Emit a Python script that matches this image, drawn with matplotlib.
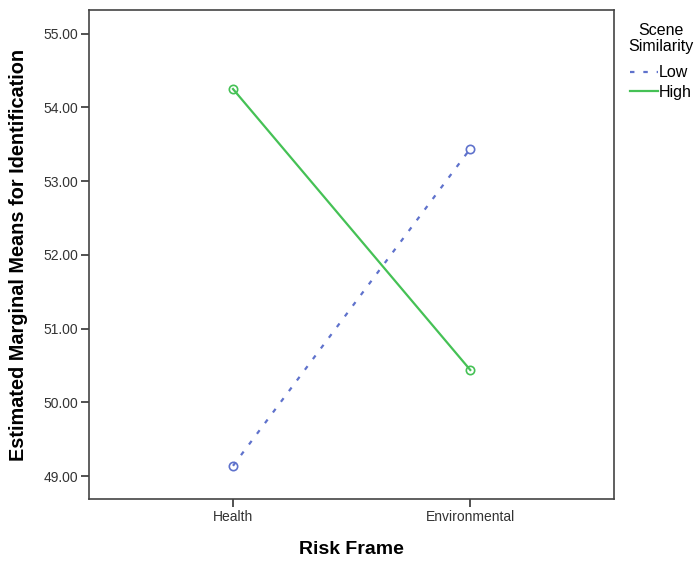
import matplotlib.pyplot as plt

plt.rcParams['font.family'] = ['Liberation Sans', 'DejaVu Sans']

# Estimated marginal means
risk_frames = ['Health', 'Environmental']
low_means = [49.14, 53.44]
high_means = [54.25, 50.44]
y_ticks = [49, 50, 51, 52, 53, 54, 55]

fig = plt.figure(figsize=(6.97, 5.61), dpi=100)
ax = fig.add_axes([0.128, 0.1105, 0.753, 0.8715])

x = range(len(risk_frames))
ax.plot(x, low_means, color='#5f72cc', linestyle=(0, (2, 4)), linewidth=1.6,
        marker='o', markersize=6, markerfacecolor='none', markeredgewidth=1.2,
        label='Low')
ax.plot(x, high_means, color='#45c155', linestyle='-', linewidth=1.6,
        marker='o', markersize=6, markerfacecolor='none', markeredgewidth=1.2,
        label='High')

ax.set_xlim(-0.606, 1.606)
ax.set_ylim(48.69, 55.32)
ax.set_xticks(list(x))
ax.set_xticklabels(risk_frames)
ax.set_yticks(y_ticks)
ax.set_yticklabels([f'{v:.2f}' for v in y_ticks])
ax.tick_params(labelsize=10, colors='#333333', length=6, width=1.2, pad=2)

for s in ax.spines.values():
    s.set_color('#444444')
    s.set_linewidth(1.2)

ax.set_xlabel('Risk Frame', fontsize=14, fontweight='bold')
ax.set_ylabel('Estimated Marginal Means for Identification', fontsize=14.3,
              fontweight='bold')
ax.xaxis.set_label_coords(0.5, -0.085)
ax.yaxis.set_label_coords(-0.116, 0.5)

leg = ax.legend(title='Scene\nSimilarity', loc='upper left',
                bbox_to_anchor=(628 / 697, 1 - 23 / 561),
                bbox_transform=fig.transFigure, frameon=False, fontsize=11.5,
                title_fontsize=11.5, handlelength=1.75, handletextpad=0.05,
                labelspacing=0.27, borderaxespad=0, borderpad=0)
leg.get_title().set_multialignment('center')
leg.get_title().set_linespacing(1.05)
leg._legend_box.sep = 8.5  # extra gap between title and entries
for h in leg.get_lines():
    h.set_marker('')

fig.savefig('out.png', dpi=100)
